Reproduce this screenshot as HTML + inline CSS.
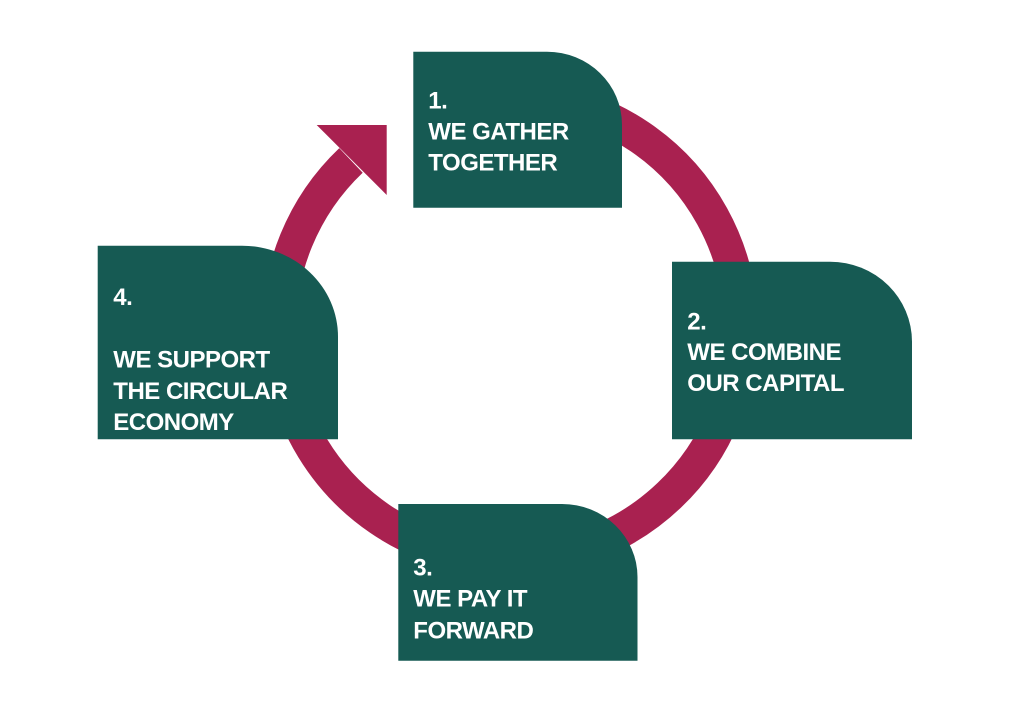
<!DOCTYPE html>
<html>
<head>
<meta charset="utf-8">
<style>
  html, body { margin: 0; padding: 0; background: #ffffff; }
  body { width: 1023px; height: 723px; overflow: hidden; }
  svg { display: block; }
  text { font-family: "Liberation Sans", Arial, sans-serif; font-weight: bold; font-size: 24px; fill: #ffffff; letter-spacing: -0.5px; }
</style>
</head>
<body>
<svg width="1023" height="723" viewBox="0 0 1023 723" xmlns="http://www.w3.org/2000/svg">
  <rect x="0" y="0" width="1023" height="723" fill="#ffffff"/>

  <!-- ring arc -->
  <path d="M 550.1 100.5 A 231 231 0 1 1 351.0 160.4" fill="none" stroke="#A92150" stroke-width="34" stroke-linecap="butt"/>
  <!-- arrowhead -->
  <polygon points="316.7,125 386.7,125 386.7,195" fill="#A92150"/>

  <!-- Box 1 -->
  <path d="M 413.3 51.7 L 547 51.7 A 75 73 0 0 1 622 124.7 L 622 207.7 L 413.3 207.7 Z" fill="#165A53"/>
  <!-- Box 2 -->
  <path d="M 672 261.7 L 830 261.7 A 82 80 0 0 1 912 341.7 L 912 439.3 L 672 439.3 Z" fill="#165A53"/>
  <!-- Box 4 -->
  <path d="M 97.7 245.7 L 242 245.7 A 96 91 0 0 1 338 336.7 L 338 439.3 L 97.7 439.3 Z" fill="#165A53"/>
  <!-- Box 3 -->
  <path d="M 398.3 504 L 562 504 A 75.5 73 0 0 1 637.5 577 L 637.5 660.7 L 398.3 660.7 Z" fill="#165A53"/>

  <!-- Box 1 text -->
  <text x="428.3" y="108.3">1.</text>
  <text x="428.3" y="139.3">WE GATHER</text>
  <text x="428.3" y="170.7">TOGETHER</text>

  <!-- Box 2 text -->
  <text x="687.3" y="329.3">2.</text>
  <text x="687.3" y="359.8">WE COMBINE</text>
  <text x="687.3" y="391">OUR CAPITAL</text>

  <!-- Box 3 text -->
  <text x="413.3" y="575.7">3.</text>
  <text x="413.3" y="606.7">WE PAY IT</text>
  <text x="413.3" y="638.3">FORWARD</text>

  <!-- Box 4 text -->
  <text x="113.3" y="305">4.</text>
  <text x="113.3" y="367.7">WE SUPPORT</text>
  <text x="113.3" y="398.8">THE CIRCULAR</text>
  <text x="113.3" y="430">ECONOMY</text>
</svg>
</body>
</html>
